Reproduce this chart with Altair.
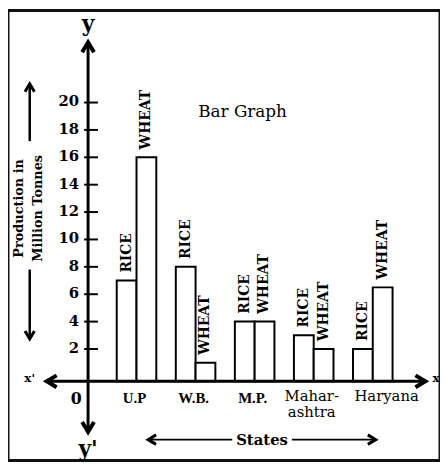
import altair as alt
import pandas as pd

# ---- data ----
states = ["U.P", "W.B.", "M.P.", "Mahar-\nashtra", "Haryana"]
rice = [7, 8, 4, 3, 2]
wheat = [16, 1, 4, 2, 6.5]
crops = ["RICE", "WHEAT"]
y_ticks = [2, 4, 6, 8, 10, 12, 14, 16, 18, 20]

# ---- style / layout constants ----
SERIF = "DejaVu Serif"
TIMES = "Liberation Serif"
BAR_W = 0.335          # bar width in x units
BASE = -0.36           # level of the drawn x axis
AXIS_X = 0.18          # position of the drawn y axis
XS = alt.Scale(domain=[-1.1757, 6.1381], nice=False, zero=False)
YS = alt.Scale(domain=[-6.137, 26.715], nice=False, zero=False)

rows = []
for i, s in enumerate(states):
    c = i + 1
    for crop, vals, side in ((crops[0], rice, -1), (crops[1], wheat, 1)):
        x0 = c if side > 0 else c - BAR_W
        rows.append(dict(state=s, crop=crop, value=vals[i], x=x0, x2=x0 + BAR_W,
                         mid=x0 + BAR_W / 2, base=BASE))
bars_df = pd.DataFrame(rows)
cats_df = pd.DataFrame(dict(state=states, c=[i + 1 for i in range(len(states))], base=BASE))
ticks_df = pd.DataFrame(dict(v=y_ticks, ax=AXIS_X, lab=[str(t) for t in y_ticks]))

X = lambda f: alt.X(f, scale=XS, axis=None)
Y = lambda f: alt.Y(f, scale=YS, axis=None)

bars = alt.Chart(bars_df).mark_bar(fill="white", stroke="black", strokeWidth=2).encode(
    x=X("x:Q"), x2="x2:Q", y=Y("value:Q"), y2="base:Q")

bar_labels = alt.Chart(bars_df).mark_text(
    angle=270, align="left", baseline="middle", dx=8, font=SERIF, fontSize=14,
    fontWeight="bold", color="black"
).encode(x=X("mid:Q"), y=Y("value:Q"), text="crop:N")

bold_states = states[:3]
cat_bold = alt.Chart(cats_df).transform_filter(
    alt.FieldOneOfPredicate(field="state", oneOf=bold_states)
).mark_text(align="center", baseline="alphabetic", dy=22, dx=-2, font=TIMES,
            fontWeight="bold", fontSize=15, color="black").encode(
    x=X("c:Q"), y=Y("base:Q"), text="state:N")
cat_reg = alt.Chart(cats_df).transform_filter(
    alt.FieldOneOfPredicate(field="state", oneOf=[states[3]])
).mark_text(align="center", baseline="alphabetic", dy=20, dx=-2, font=SERIF,
            fontSize=15, lineBreak="\n", lineHeight=16, color="black").encode(
    x=X("c:Q"), y=Y("base:Q"), text="state:N")
cat_har = alt.Chart(cats_df).transform_filter(
    alt.FieldOneOfPredicate(field="state", oneOf=[states[4]])
).mark_text(align="center", baseline="alphabetic", dy=20, dx=14, font=SERIF,
            fontSize=15, color="black").encode(
    x=X("c:Q"), y=Y("base:Q"), text="state:N")

# y axis ticks and labels
tick_rules = alt.Chart(ticks_df).mark_rule(color="black", strokeWidth=2, xOffset=-4, x2Offset=10).encode(
    x=X("ax:Q"), x2="ax:Q", y=Y("v:Q"))
tick_text = alt.Chart(ticks_df).mark_text(
    align="right", baseline="middle", dx=-9, dy=-1, font=SERIF, fontWeight="bold", fontSize=15,
    color="black").encode(x=X("ax:Q"), y=Y("v:Q"), text="lab:N")

# drawn axes and arrows
lines_df = pd.DataFrame([
    dict(x=AXIS_X, x2=AXIS_X, y=24.3, y2=-3.9, w=3),      # y axis
    dict(x=-0.51, x2=5.88, y=BASE, y2=BASE, w=3),         # x axis
    dict(x=-0.808, x2=-0.808, y=21.3, y2=17.18, w=2.5),   # title arrow up
    dict(x=-0.808, x2=-0.808, y=7.80, y2=2.8, w=2.5),     # title arrow down
    dict(x=1.21, x2=2.62, y=-4.62, y2=-4.62, w=2),        # States left
    dict(x=3.63, x2=5.04, y=-4.62, y2=-4.62, w=2),        # States right
])
axis_lines = alt.Chart(lines_df).mark_rule(color="black").encode(
    x=X("x:Q"), x2="x2:Q", y=Y("y:Q"), y2="y2:Q",
    strokeWidth=alt.StrokeWidth("w:Q", scale=None, legend=None))

UP = "M -0.6 1 L 0 0 L 0.6 1"
DOWN = "M -0.6 -1 L 0 0 L 0.6 -1"
LEFT = "M 1 -0.6 L 0 0 L 1 0.6"
RIGHT = "M -1 -0.6 L 0 0 L -1 0.6"
heads_df = pd.DataFrame([
    dict(x=AXIS_X, y=24.4, d="up", s=400, w=4),
    dict(x=AXIS_X, y=-4.05, d="down", s=400, w=4),
    dict(x=-0.52, y=BASE, d="left", s=400, w=4),
    dict(x=5.89, y=BASE, d="right", s=400, w=4),
    dict(x=-0.808, y=21.37, d="up", s=256, w=3),
    dict(x=-0.808, y=2.74, d="down", s=256, w=3),
    dict(x=1.197, y=-4.62, d="left", s=256, w=3),
    dict(x=5.05, y=-4.62, d="right", s=256, w=3),
])
heads = alt.Chart(heads_df).mark_point(filled=False, color="black", strokeJoin="miter", opacity=1).encode(
    x=X("x:Q"), y=Y("y:Q"),
    shape=alt.Shape("d:N", scale=alt.Scale(domain=["up", "down", "left", "right"],
                                           range=[UP, DOWN, LEFT, RIGHT]), legend=None),
    size=alt.Size("s:Q", scale=None, legend=None),
    strokeWidth=alt.StrokeWidth("w:Q", scale=None, legend=None))

def label(df, **kw):
    return alt.Chart(pd.DataFrame(df)).mark_text(color="black", **kw).encode(
        x=X("x:Q"), y=Y("y:Q"), text="t:N")

big_letters = label(dict(x=[AXIS_X, AXIS_X], y=[25.2, -5.85], t=["y", "y'"]),
                    font=SERIF, fontWeight="bold", fontSize=22, baseline="alphabetic", align="center")
small_letters = label(dict(x=[-0.808, 6.07], y=[-0.1, -0.1], t=["x'", "x"]),
                      font=SERIF, fontWeight="bold", fontSize=12, baseline="middle", align="center")
zero = label(dict(x=[AXIS_X], y=[BASE], t=["0"]), font=SERIF, fontWeight="bold", fontSize=16,
             baseline="middle", align="center", dx=-12, dy=18)
title = label(dict(x=[2.795], y=[19.28], t=["Bar Graph"]), font=SERIF, fontSize=17,
              baseline="middle", align="center")
states_lbl = label(dict(x=[3.125], y=[-4.62], t=["States"]), font=SERIF, fontWeight="bold",
                   fontSize=15, baseline="middle", align="center")
ytitle = label(dict(x=[-0.992, -0.674], y=[12.27, 12.27], t=["Production in", "Million Tonnes"]),
               font=SERIF, fontWeight="bold", fontSize=13, baseline="middle", align="center", angle=270)

chart = alt.layer(
    bars, bar_labels, axis_lines, tick_rules, tick_text, heads,
    cat_bold, cat_reg, cat_har, big_letters, small_letters, zero, title, states_lbl, ytitle
).properties(
    width=437, height=455, autosize=alt.AutoSizeParams(type="none"), padding=0,
    background="white"
).configure_view(stroke="#111", strokeWidth=3)

chart.save("out.html", embed_options={"renderer": "svg", "actions": False})
